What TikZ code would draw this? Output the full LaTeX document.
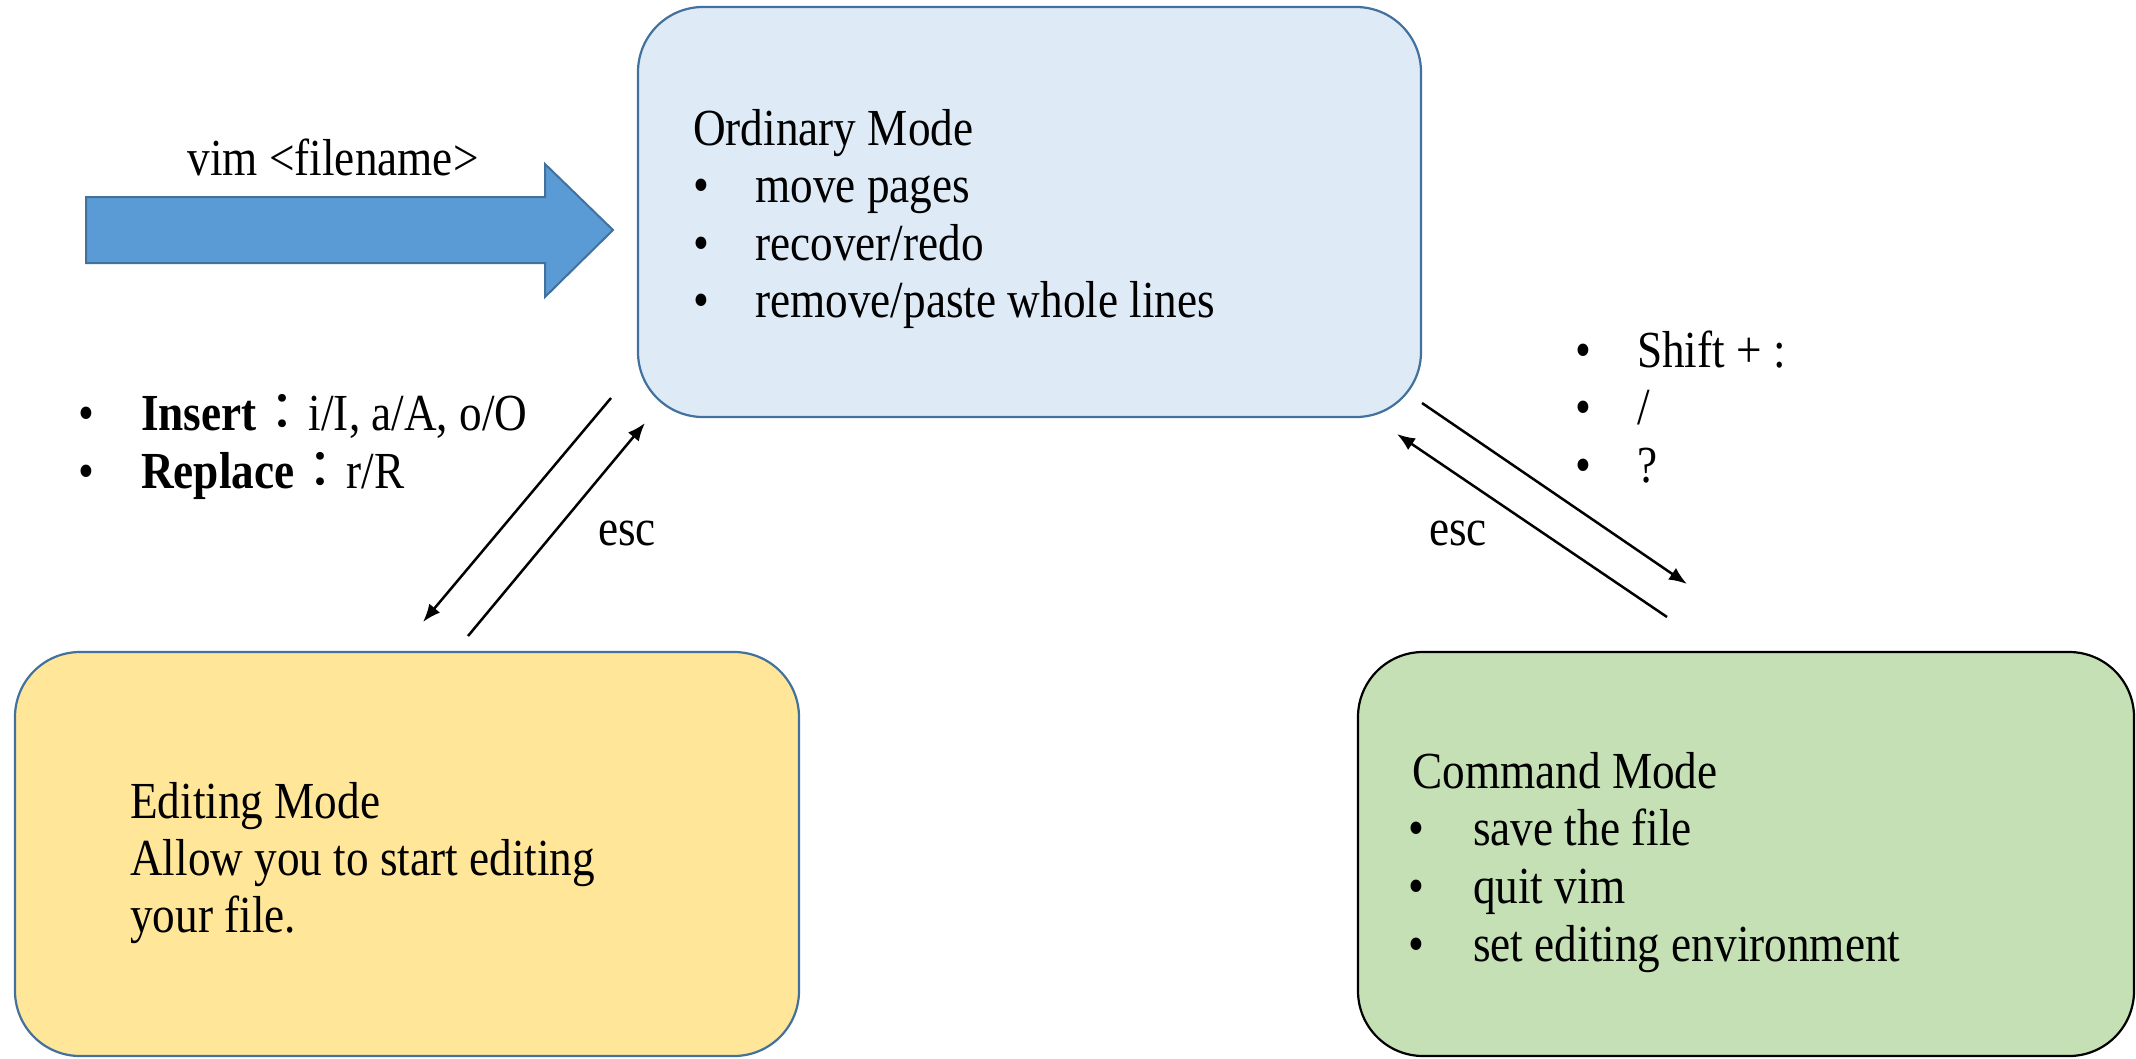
\documentclass[tikz,border=0pt]{standalone}
\usepackage{fontspec}
\setmainfont{Liberation Serif}[FakeStretch=0.87]
\newfontfamily\cjk{Noto Sans CJK TC}
\usetikzlibrary{arrows.meta}
\definecolor{ordfill}{HTML}{DEEBF7}
\definecolor{edfill}{HTML}{FFE699}
\definecolor{cmdfill}{HTML}{C5E0B4}
\definecolor{startfill}{HTML}{5B9BD5}
\definecolor{blueline}{HTML}{41719C}
\newcommand{\itm}[2][62pt]{\makebox[#1][l]{\textbullet}#2}
\tikzset{
  modebox/.style={draw,rounded corners=65pt,line width=2.2pt,inner sep=0pt},
  txt/.style={anchor=base west,inner sep=0pt,font=\fontsize{52}{62}\selectfont},
  lbl/.style={anchor=base,inner sep=0pt,font=\fontsize{52}{62}\selectfont},
  link/.style={->,line width=2.5pt},
}
\begin{document}
\begin{tikzpicture}[x=1pt,y=-1pt,>={Latex[length=18pt,width=14pt]}]
\useasboundingbox (0,0) rectangle (2136,1058);
%% boxes
\node (ordinary) at (1029.5,212) [modebox,draw=blueline,fill=ordfill,minimum width=783pt,minimum height=410pt] {};
\node (editing) at (407,854) [modebox,draw=blueline,fill=edfill,minimum width=784pt,minimum height=404pt] {};
\node (command) at (1746,854) [modebox,draw=black,fill=cmdfill,minimum width=776pt,minimum height=404pt] {};
%% start arrow
\draw [fill=startfill,draw=blueline,line width=2pt] (86,197) -- (545,197) -- (545,164) -- (613,230) -- (545,297) -- (545,263) -- (86,263) -- cycle;
\node (vim) at (333,175) [lbl] {vim <filename>};
%% box texts
\node (ord_0) at (693,145) [txt] {Ordinary Mode};
\node (ord_1) at (693,202) [txt] {\itm{move pages}};
\node (ord_2) at (693,260) [txt] {\itm{recover/redo}};
\node (ord_3) at (693,317) [txt] {\itm{remove/paste whole lines}};
\node (ed_0) at (130,818) [txt] {Editing Mode};
\node (ed_1) at (130,875) [txt] {Allow you to start editing};
\node (ed_2) at (130,932) [txt] {your file.};
\node (cmd_0) at (1412,788) [txt] {Command Mode};
\node (cmd_1) at (1408,845) [txt] {\itm[65pt]{save the file}};
\node (cmd_2) at (1408,903) [txt] {\itm[65pt]{quit vim}};
\node (cmd_3) at (1408,961) [txt] {\itm[65pt]{set editing environment}};
%% key lists
\node (key_0) at (78,430) [txt] {\itm[63pt]{\textbf{Insert}{\cjk ：}i/I, a/A, o/O}};
\node (key_1) at (78,488) [txt] {\itm[63pt]{\textbf{Replace}{\cjk ：}r/R}};
\node (key_2) at (1575,367) [txt] {\itm[62pt]{Shift + :}};
\node (key_3) at (1575,424) [txt] {\itm[62pt]{/}};
\node (key_4) at (1575,482) [txt] {\itm[62pt]{?}};
\node (esc_0) at (627,545) [lbl] {esc};
\node (esc_1) at (1458,545) [lbl] {esc};
%% transitions
\coordinate (oe_a) at (611,398);
\coordinate (oe_b) at (423,622);
\coordinate (eo_a) at (468,636);
\coordinate (eo_b) at (645,423);
\coordinate (oc_a) at (1422,403);
\coordinate (oc_b) at (1687,584);
\coordinate (co_a) at (1667,617);
\coordinate (co_b) at (1397,434);
\draw [link] (oe_a) -- (oe_b);
\draw [link] (eo_a) -- (eo_b);
\draw [link] (oc_a) -- (oc_b);
\draw [link] (co_a) -- (co_b);
%
\end{tikzpicture}
\end{document}
